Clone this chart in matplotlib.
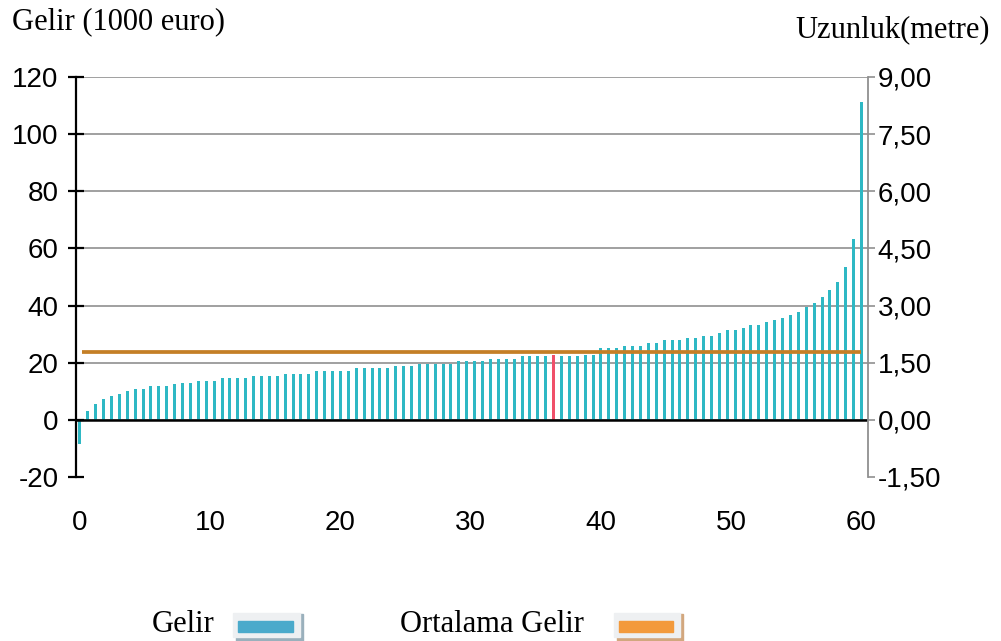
import numpy as np
import matplotlib.pyplot as plt
import matplotlib.patches as mpatches

plt.rcParams['axes.unicode_minus'] = False

# gelir degerleri (1000 euro), kucukten buyuge sirali
gelir = [-8.5, 3.0, 5.5, 7.3, 8.2, 9.1, 10.0, 10.8, 10.8, 11.7,
         11.7, 11.7, 12.6, 12.8, 12.8, 13.6, 13.6, 13.6, 14.5, 14.5,
         14.5, 14.5, 15.3, 15.3, 15.3, 15.3, 16.2, 16.2, 16.2, 16.2,
         17.1, 17.1, 17.1, 17.1, 17.1, 18.0, 18.0, 18.0, 18.0, 18.0,
         18.9, 18.9, 18.9, 19.5, 19.5, 19.6, 19.6, 19.6, 20.6, 20.6,
         20.6, 20.6, 21.4, 21.4, 21.4, 21.4, 22.4, 22.4, 22.4, 22.5,
         22.8, 22.5, 22.5, 22.5, 22.6, 22.6, 25.0, 25.0, 25.0, 26.0,
         26.0, 26.0, 26.8, 26.8, 27.9, 27.9, 27.9, 28.7, 28.7, 29.5,
         29.5, 30.5, 31.4, 31.4, 32.3, 33.1, 33.1, 34.1, 35.0, 35.8,
         36.8, 37.6, 39.6, 41.0, 43.0, 45.4, 48.4, 53.5, 63.2, 111.2]
ortalama_gelir = 23.7
kirmizi_sira = 60

x_ticks = [0, 10, 20, 30, 40, 50, 60]
sol_ticks = [-20, 0, 20, 40, 60, 80, 100, 120]
sag_ticks = [-1.5, 0.0, 1.5, 3.0, 4.5, 6.0, 7.5, 9.0]
sag_etiket = ['-1,50', '0,00', '1,50', '3,00', '4,50', '6,00', '7,50', '9,00']

sans = 'Liberation Sans'
serif = 'Liberation Serif'

fig = plt.figure(figsize=(10.01, 6.41), dpi=100)
ax = fig.add_axes([76/1001, 1-477/641, 792/1001, 400/641])

x = np.linspace(0, 60, len(gelir))
renkler = ['#2EB8C4'] * len(gelir)
renkler[kirmizi_sira] = '#F0506A'
ax.bar(x, gelir, width=0.23, color=renkler, zorder=3)
ax.hlines(ortalama_gelir, x[0] + 0.15, x[-1], color='#C47F26', lw=2.7, zorder=4)
ax.axhline(0, color='black', lw=1.8, zorder=5)

ax.set_xlim(-0.3, 60.5)
ax.set_ylim(-20, 120)
ax.set_yticks(sol_ticks)
ax.set_xticks(x_ticks)
ax.grid(axis='y', color='#A0A0A0', lw=1.4, zorder=0)
ax.get_ygridlines()[0].set_visible(False)

for s in ['top', 'bottom', 'right']:
    ax.spines[s].set_visible(False)
ax.spines['left'].set_color('black')
ax.spines['left'].set_linewidth(1.6)
ax.tick_params(axis='y', direction='inout', length=11, width=1.6, pad=7)
ax.tick_params(axis='x', length=0, pad=24)
for lab in ax.get_xticklabels() + ax.get_yticklabels():
    lab.set_fontfamily(sans)
    lab.set_fontsize(20)

ax2 = ax.twinx()
ax2.set_ylim(-1.5, 9.0)
ax2.set_yticks(sag_ticks)
ax2.set_yticklabels(sag_etiket)
for s in ['top', 'bottom', 'left']:
    ax2.spines[s].set_visible(False)
ax2.spines['right'].set_color('#909090')
ax2.spines['right'].set_linewidth(1.3)
ax2.tick_params(axis='y', length=5, width=1.2, color='#909090', pad=2)
for lab in ax2.get_yticklabels():
    lab.set_fontfamily(sans)
    lab.set_fontsize(20)

fig.text(12/1001, 1-22/641, 'Gelir (1000 euro)', family=serif, fontsize=22, va='center')
fig.text(990/1001, 1-30/641, 'Uzunluk(metre)', family=serif, fontsize=22, va='center', ha='right')

# lejant
def kutu(x0, x1, renk, golge):
    w = (x1 - x0) / 1001
    fig.patches.append(mpatches.Rectangle((x0/1001 + 0.003, 0), w, 27/641,
                                          transform=fig.transFigure, color=golge))
    fig.patches.append(mpatches.Rectangle((x0/1001, 1-637/641), w, 24/641,
                                          transform=fig.transFigure, color='#EEF0F2'))
    fig.patches.append(mpatches.Rectangle((x0/1001 + 5/1001, 1-632/641), w - 12/1001, 11/641,
                                          transform=fig.transFigure, color=renk))

fig.text(152/1001, 1-625/641, 'Gelir', family=serif, fontsize=22, va='center')
kutu(233, 300, '#4AAACB', '#9AB0BC')
fig.text(400/1001, 1-625/641, 'Ortalama Gelir', family=serif, fontsize=22, va='center')
kutu(614, 680, '#F39A3C', '#D2A77E')

fig.savefig('out.png', dpi=100)
